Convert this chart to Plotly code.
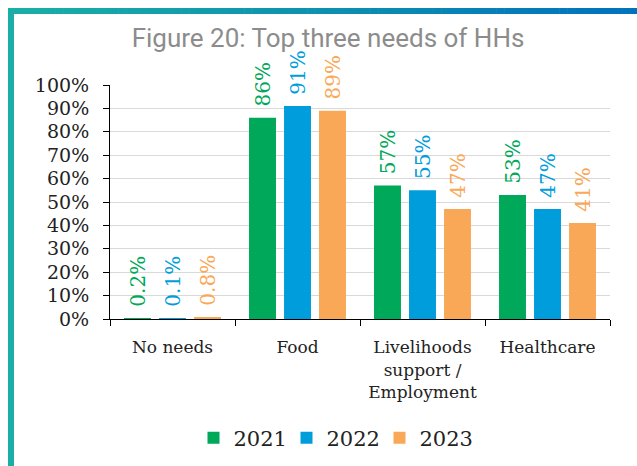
import plotly.graph_objects as go

# Top three needs of households, share of HHs (%) by survey year
categories = ["No needs", "Food", "Livelihoods<br>support /<br>Employment", "Healthcare"]
years = ["2021", "2022", "2023"]
values_2021 = [0.2, 86, 57, 53]
values_2022 = [0.1, 91, 55, 47]
values_2023 = [0.8, 89, 47, 41]
series = [values_2021, values_2022, values_2023]
colors = ["#00a859", "#009ddc", "#f9a857"]

W, H = 637, 466
L, R, T, B = 110, 27, 85, 147
PW, PH = W - L - R, H - T - B

SERIF = "DejaVu Serif"

fig = go.Figure()
for name, vals, col in zip(years, series, colors):
    fig.add_trace(go.Bar(
        x=categories, y=vals, name=name,
        marker=dict(color=col, line=dict(width=0)),
        # leading spaces lift the rotated label a little off the bar top
        text=["\u00a0\u200a%g%%" % v for v in vals],
        textposition="outside", textangle=-90,
        textfont=dict(family=SERIF, size=20, color=col),
        constraintext="none", cliponaxis=False,
    ))


def px_x(x):
    return (x - L) / PW


def px_y(y):
    return (H - B - y) / PH


# frame: teal left edge and teal-to-blue top edge
shapes = [dict(type="rect", xref="paper", yref="paper",
               x0=px_x(8), x1=px_x(14), y0=px_y(8), y1=px_y(H + 2),
               fillcolor="#19afa4", line=dict(width=0), layer="above")]
c0 = (0x19, 0xaf, 0xa4)
c1 = (0x00, 0x72, 0xbc)
n = 80
x_start, x_end = 8, W + 1
for i in range(n):
    t = i / (n - 1)
    c = tuple(round(a + (b - a) * t) for a, b in zip(c0, c1))
    xa = x_start + (x_end - x_start) * i / n
    xb = x_start + (x_end - x_start) * (i + 1) / n + 0.6
    shapes.append(dict(type="rect", xref="paper", yref="paper",
                       x0=px_x(xa), x1=px_x(xb), y0=px_y(8), y1=px_y(14),
                       fillcolor="rgb(%d,%d,%d)" % c, line=dict(width=0),
                       layer="above"))

fig.update_layout(
    width=W, height=H,
    margin=dict(l=L, r=R, t=T, b=B, autoexpand=False),
    paper_bgcolor="white", plot_bgcolor="white",
    barmode="group", bargap=0.16, bargroupgap=0.23,
    title=dict(text="Figure 20: Top three needs of HHs",
               font=dict(family="Roboto", size=26, color="#8c8c8c"),
               x=328 / W, xanchor="center", y=1 - 38 / H, yanchor="middle"),
    font=dict(family=SERIF, color="#222222"),
    xaxis=dict(showline=True, linecolor="#000000", linewidth=1,
               ticks="outside", tickson="boundaries", ticklen=6,
               tickcolor="#000000", ticklabelstandoff=13,
               tickfont=dict(family=SERIF, size=17, color="#222222"),
               showgrid=False),
    yaxis=dict(range=[0, 100], dtick=10, ticksuffix="%",
               showline=True, linecolor="#000000", linewidth=1,
               ticks="outside", ticklen=6, tickcolor="#000000",
               ticklabelstandoff=10,
               tickfont=dict(family=SERIF, size=19, color="#222222"),
               showgrid=True, gridcolor="#d9d9d9", gridwidth=1,
               zeroline=False),
    legend=dict(orientation="h", x=px_x(333), xanchor="center",
                y=px_y(438), yanchor="middle",
                font=dict(family=SERIF, size=21, color="#222222"),
                entrywidth=48, entrywidthmode="pixels",
                itemwidth=30, traceorder="normal"),
    shapes=shapes,
)

fig.write_html("out.html")
